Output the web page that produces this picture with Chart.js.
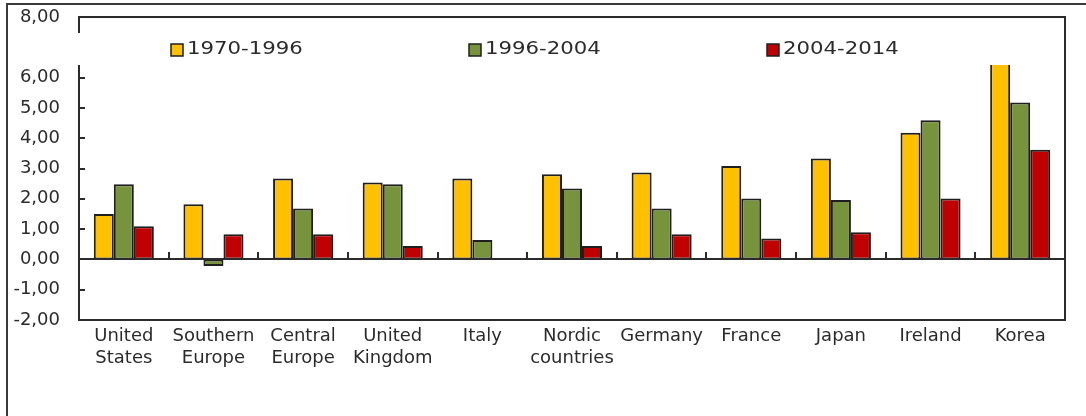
<!DOCTYPE html>
<html><head><meta charset="utf-8">
<script src="https://cdn.jsdelivr.net/npm/chart.js@4.4.1/dist/chart.umd.min.js"></script>
<style>html,body{margin:0;padding:0;background:#fff;overflow:hidden}#c{display:block}</style>
</head><body>
<canvas id="c" width="1086" height="416"></canvas>
<script>
const categories = [["United","States"],["Southern","Europe"],["Central","Europe"],["United","Kingdom"],"Italy",["Nordic","countries"],"Germany","France","Japan","Ireland","Korea"];
const seriesNames = ["1970-1996","1996-2004","2004-2014"];
const seriesColors = ["#FFC000","#77933C","#C00000"];
const p1970_1996 = [1.50,1.82,2.67,2.54,2.67,2.81,2.87,3.08,3.33,4.18,6.90];
const p1996_2004 = [2.48,-0.22,1.68,2.48,0.64,2.34,1.68,2.01,1.96,4.59,5.18];
const p2004_2014 = [1.09,0.83,0.83,0.44,0.05,0.44,0.83,0.69,0.90,2.01,3.62];
const yMin = -2, yMax = 8, yStep = 1;

const INK = '#2b2b2b';

const decor = {
  id: 'decor',
  beforeDraw(chart) {
    const ctx = chart.ctx;
    ctx.save();
    ctx.fillStyle = '#fff';
    ctx.fillRect(0, 0, chart.width, chart.height);
    ctx.strokeStyle = '#3a3a3a';
    ctx.lineWidth = 2;
    ctx.beginPath();
    ctx.moveTo(7, chart.height);
    ctx.lineTo(7, 4);
    ctx.lineTo(chart.width, 4);
    ctx.stroke();
    ctx.restore();
  },
  afterDatasetsDraw(chart) {
    const ctx = chart.ctx, a = chart.chartArea;
    const y = chart.scales.y, x = chart.scales.x;
    ctx.save();
    ctx.strokeStyle = INK;
    ctx.lineWidth = 2;
    const y0 = Math.round(y.getPixelForValue(0));
    ctx.beginPath(); ctx.moveTo(a.left, y0); ctx.lineTo(a.right, y0); ctx.stroke();
    ctx.strokeRect(a.left, a.top, a.right - a.left, a.bottom - a.top);
    ctx.beginPath();
    for (let v = yMin; v <= yMax; v += yStep) {
      const py = Math.round(y.getPixelForValue(v));
      ctx.moveTo(a.left, py); ctx.lineTo(a.left + 6, py);
    }
    const n = categories.length;
    for (let i = 1; i < n; i++) {
      const px = Math.round((x.getPixelForValue(i - 1) + x.getPixelForValue(i)) / 2);
      ctx.moveTo(px, y0); ctx.lineTo(px, y0 - 7);
    }
    ctx.stroke();
    ctx.restore();
  },
  afterDraw(chart) {
    const ctx = chart.ctx;
    ctx.save();
    ctx.fillStyle = '#fff';
    ctx.fillRect(15, 33, 1045, 32);
    const xs = [171, 469, 767];
    chart.data.datasets.forEach((ds, i) => {
      ctx.fillStyle = ds.backgroundColor;
      ctx.fillRect(xs[i], 44, 12, 12);
      ctx.strokeStyle = '#1f1f1f';
      ctx.lineWidth = 1.5;
      ctx.strokeRect(xs[i], 44, 12, 12);
      ctx.save();
      ctx.translate(xs[i] + 16, 50);
      ctx.scale(1.25, 1);
      ctx.fillStyle = INK;
      ctx.font = '17px "DejaVu Sans"';
      ctx.textBaseline = 'middle';
      ctx.fillText(ds.label, 0, 0);
      ctx.restore();
    });
    ctx.restore();
  }
};

const seriesData = [p1970_1996, p1996_2004, p2004_2014];
new Chart(document.getElementById('c'), {
  type: 'bar',
  data: {
    labels: categories,
    datasets: seriesNames.map((name, i) => ({
      label: name,
      data: seriesData[i],
      backgroundColor: seriesColors[i],
      borderColor: '#1f1f1f',
      borderWidth: 2,
      borderSkipped: false,
      categoryPercentage: 0.67,
      barPercentage: 1.0
    }))
  },
  options: {
    responsive: false,
    animation: false,
    devicePixelRatio: 1,
    layout: { padding: { top: 17, right: 21, bottom: 0, left: 0 } },
    plugins: { legend: { display: false }, tooltip: { enabled: false } },
    scales: {
      x: {
        grid: { display: false, drawTicks: false },
        border: { display: false },
        ticks: {
          color: INK, padding: 5, maxRotation: 0, autoSkip: false,
          font: { family: '"DejaVu Sans"', size: 18, lineHeight: 1.22 }
        },
        afterFit(s) { s.height = 96; s.paddingLeft = 0; s.paddingRight = 0; }
      },
      y: {
        min: yMin, max: yMax,
        grid: { display: false, drawTicks: false },
        border: { display: false },
        ticks: {
          stepSize: yStep, color: INK, padding: 19,
          font: { family: '"DejaVu Sans"', size: 18 },
          callback: v => v.toFixed(2).replace('.', ',')
        },
        afterFit(s) { s.width = 79; s.paddingTop = 0; s.paddingBottom = 0; }
      }
    }
  },
  plugins: [decor]
});
</script>
</body></html>
